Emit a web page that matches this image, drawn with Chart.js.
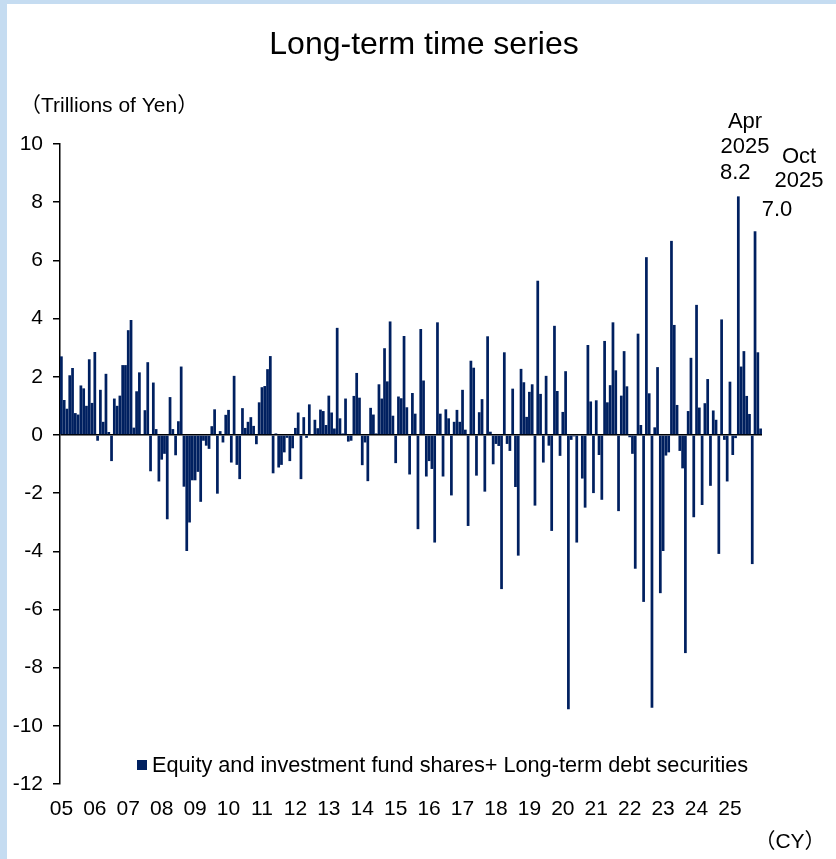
<!DOCTYPE html>
<html>
<head>
<meta charset="utf-8">
<title>Long-term time series</title>
<script src="https://cdn.jsdelivr.net/npm/chart.js@4.4.1/dist/chart.umd.min.js"></script>
<style>
  html, body { margin: 0; padding: 0; background: #ffffff; }
  #chart { display: block; }
</style>
</head>
<body>
<canvas id="chart" width="836" height="859"></canvas>
<script>
// Monthly flows, trillions of yen, Jan 2005 .. Dec 2025
const years = ['05', '06', '07', '08', '09', '10', '11', '12', '13', '14', '15',
               '16', '17', '18', '19', '20', '21', '22', '23', '24', '25'];

const flows = [
  // 2005
  2.7, 1.2, 0.9, 2.05, 2.3, 0.75, 0.7, 1.7, 1.6, 1.0, 2.6, 1.1,
  // 2006
  2.85, -0.2, 1.55, 0.45, 2.1, 0.1, -0.9, 1.25, 1.0, 1.35, 2.4, 2.4,
  // 2007
  3.6, 3.95, 0.25, 1.5, 2.15, 0.02, 0.85, 2.5, -1.25, 1.8, 0.2, -1.6,
  // 2008
  -0.85, -0.65, -2.9, 1.3, 0.2, -0.7, 0.47, 2.35, -1.78, -3.99, -3.01, -1.56,
  // 2009
  -1.56, -1.27, -2.3, -0.2, -0.37, -0.48, 0.3, 0.88, -2.02, 0.13, -0.26, 0.69,
  // 2010
  0.86, -0.95, 2.03, -1.03, -1.52, 0.92, 0.24, 0.45, 0.61, 0.31, -0.32, 1.12,
  // 2011
  1.64, 1.68, 2.26, 2.71, -1.32, 0.05, -1.12, -1.03, -0.6, -0.1, -0.9, -0.46,
  // 2012
  0.24, 0.77, -1.52, 0.61, -0.1, 1.05, 0.03, 0.52, 0.23, 0.87, 0.82, 0.34,
  // 2013
  1.35, 0.77, 0.22, 3.68, 0.57, 0.05, 1.25, -0.23, -0.2, 1.34, 2.13, 1.28,
  // 2014
  -1.04, -0.26, -1.59, 0.93, 0.7, 0.05, 1.74, 1.25, 2.98, 1.84, 3.9, 0.66,
  // 2015
  -0.97, 1.32, 1.26, 3.4, 0.95, -1.36, 1.44, 0.73, -3.24, 3.64, 1.87, -1.43,
  // 2016
  -0.9, -1.17, -3.7, 3.87, 0.73, -1.43, 0.88, 0.57, -2.08, 0.45, 0.86, 0.45,
  // 2017
  1.55, 0.18, -3.13, 2.55, 2.31, -1.4, 0.78, 1.23, -1.95, 3.39, 0.11, -1.01,
  // 2018
  -0.31, -0.38, -5.3, 2.84, -0.31, -0.55, 1.59, -1.79, -4.15, 2.27, 1.81, 0.62,
  // 2019
  1.48, 1.74, -2.43, 5.3, 1.41, -0.95, 2.03, -0.37, -3.3, 3.75, 1.51, -0.72,
  // 2020
  0.79, 2.19, -9.43, -0.17, -0.05, -3.7, 0.03, -1.5, -2.5, 3.09, 1.15, -2.0,
  // 2021
  1.19, -0.69, -2.23, 3.23, 1.12, 1.71, 3.87, 2.22, -2.62, 1.35, 2.88, 1.67,
  // 2022
  -0.08, -0.65, -4.6, 3.48, 0.34, -5.74, 6.11, 1.43, -9.38, 0.26, 2.33, -5.44,
  // 2023
  -3.99, -0.71, -0.6, 6.67, 3.78, 1.03, -0.55, -1.15, -7.5, 0.82, 2.65, -2.83,
  // 2024
  4.47, 0.94, -2.41, 1.09, 1.92, -1.75, 0.84, 0.52, -4.09, 3.97, -0.17, -1.6,
  // 2025
  1.83, -0.69, -0.11, 8.2, 2.35, 2.88, 1.34, 0.72, -4.44, 7.0, 2.84, 0.22
];

const yTicks = [-12, -10, -8, -6, -4, -2, 0, 2, 4, 6, 8, 10];

// one category per month, e.g. "2005-01"
const months = [];
years.forEach(y => {
  for (let m = 1; m <= 12; m++) months.push('20' + y + '-' + String(m).padStart(2, '0'));
});

const FONT = '"Liberation Sans", Arial, "Noto Sans CJK JP", sans-serif';
const NAVY = '#002060';

// Background, light blue frame strips and all free text
const decorations = {
  id: 'decorations',
  beforeDraw(chart) {
    const ctx = chart.ctx;
    ctx.save();
    ctx.fillStyle = '#ffffff';
    ctx.fillRect(0, 0, chart.width, chart.height);
    ctx.fillStyle = '#c5dcf1';
    ctx.fillRect(0, 0, 7, chart.height);
    ctx.fillRect(0, 0, chart.width, 4);
    ctx.restore();
  },
  afterDraw(chart) {
    const ctx = chart.ctx;
    ctx.save();
    ctx.fillStyle = '#000000';
    ctx.textBaseline = 'middle';

    // title
    ctx.font = '32px ' + FONT;
    ctx.textAlign = 'center';
    ctx.fillText('Long-term time series', 424, 45);

    // unit
    ctx.font = '21px ' + FONT;
    ctx.textAlign = 'left';
    ctx.fillText('（Trillions of Yen）', 20, 106);

    // annotations
    ctx.font = '22px ' + FONT;
    ctx.textAlign = 'center';
    ctx.fillText('Apr', 745, 122);
    ctx.fillText('2025', 745, 147);
    ctx.textAlign = 'left';
    ctx.fillText('8.2', 720, 173);
    ctx.textAlign = 'center';
    ctx.fillText('Oct', 799, 157);
    ctx.fillText('2025', 799, 181);
    ctx.fillText('7.0', 777, 210);

    // legend
    ctx.fillStyle = NAVY;
    ctx.fillRect(137, 760, 10, 10);
    ctx.fillStyle = '#000000';
    ctx.font = '21.7px ' + FONT;
    ctx.textAlign = 'left';
    ctx.fillText('Equity and investment fund shares+ Long-term debt securities', 152, 766);

    // x unit
    ctx.font = '21px ' + FONT;
    ctx.textAlign = 'center';
    ctx.fillText('（CY）', 790, 842);
    ctx.restore();
  }
};

new Chart(document.getElementById('chart'), {
  type: 'bar',
  data: {
    labels: months,
    datasets: [{
      label: 'Equity and investment fund shares+ Long-term debt securities',
      data: flows,
      backgroundColor: NAVY,
      borderWidth: 0,
      barPercentage: 1.0,
      categoryPercentage: 0.98
    }]
  },
  options: {
    responsive: false,
    animation: false,
    devicePixelRatio: 1,
    layout: { padding: { left: 0, top: 144, right: 74, bottom: 35 } },
    plugins: {
      legend: { display: false },
      title: { display: false },
      tooltip: { enabled: false }
    },
    scales: {
      x: {
        type: 'category',
        grid: { display: false, drawTicks: false },
        border: { display: false },
        ticks: {
          autoSkip: false,
          maxRotation: 0,
          minRotation: 0,
          padding: 13,
          color: '#000000',
          font: { family: FONT, size: 21 },
          callback: (v, i) => (i % 12 === 0 ? years[i / 12] : '')
        },
        afterFit: scale => { scale.height = 40; }
      },
      y: {
        min: yTicks[0],
        max: yTicks[yTicks.length - 1],
        afterBuildTicks: scale => { scale.ticks = yTicks.map(v => ({ value: v })); },
        border: { display: true, color: '#000000', width: 1.5 },
        grid: {
          drawOnChartArea: true,
          drawTicks: true,
          tickLength: 7,
          tickColor: '#000000',
          lineWidth: 1.5,
          color: c => (c.tick && c.tick.value === 0 ? '#000000' : 'rgba(0,0,0,0)')
        },
        ticks: {
          padding: 10,
          color: '#000000',
          font: { family: FONT, size: 21 }
        },
        afterFit: scale => { scale.width = 60; }
      }
    }
  },
  plugins: [decorations]
});
</script>
</body>
</html>
